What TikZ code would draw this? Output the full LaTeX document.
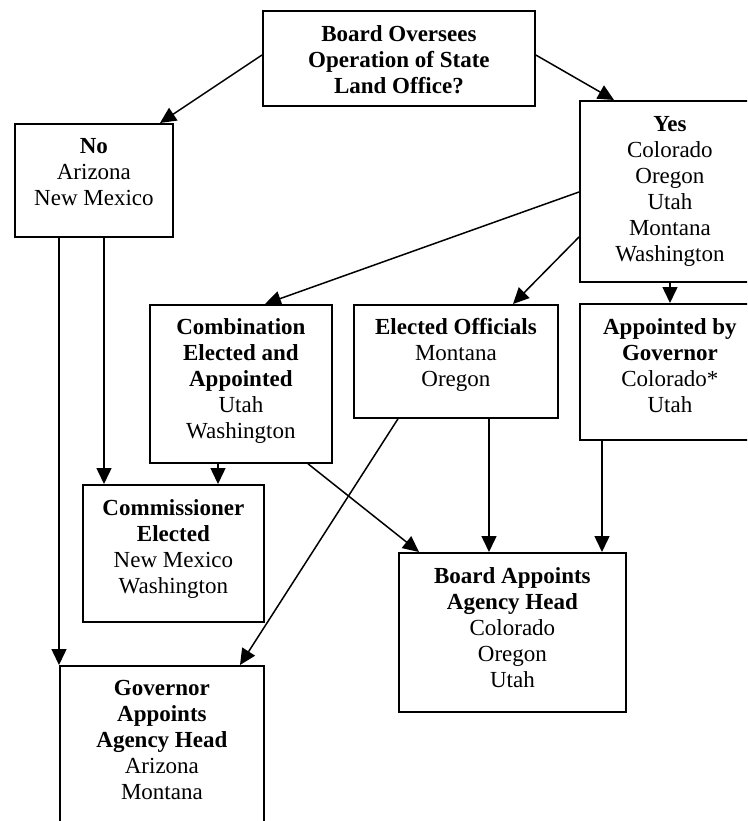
\documentclass[tikz,border=0pt]{standalone}
\usepackage{fontspec}
\setmainfont{Liberation Serif}
\usetikzlibrary{calc,arrows.meta}
\begin{document}
\begin{tikzpicture}[x=1pt,y=-1pt,
  bx/.style={draw=black,line width=1.8pt,rectangle,inner sep=0pt,anchor=north west},
  tx/.style={anchor=north,align=center,inner sep=0pt,font=\fontsize{23}{26}\selectfont},
  arr/.style={line width=1.5pt,-{Triangle[length=16pt,width=15pt]}}]
\useasboundingbox (0,0) rectangle (747,821);
\clip (0,0) rectangle (747,821);
\fill[white] (0,0) rectangle (747,821);
% boxes
\node[bx,minimum width=272,minimum height=95] (top) at (262,10) {};
\node[bx,minimum width=158,minimum height=113] (no) at (14,123) {};
\node[bx,minimum width=180,minimum height=181] (yes) at (579,100) {};
\node[bx,minimum width=180,minimum height=136] (appt) at (579,303) {};
\node[bx,minimum width=182,minimum height=158] (comb) at (149,304) {};
\node[bx,minimum width=204,minimum height=113] (elec) at (353,304) {};
\node[bx,minimum width=181,minimum height=137] (comm) at (82,484) {};
\node[bx,minimum width=227,minimum height=159] (board) at (398,552) {};
\node[bx,minimum width=204,minimum height=190] (gov) at (59,665) {};
% texts
\node[tx] (topt) at ($(top.north)+(0,13)$) {\strut\textbf{Board Oversees}\\\textbf{Operation of State}\\\textbf{Land Office?}};
\node[tx] (not) at ($(no.north)+(0,12)$) {\strut\textbf{No}\\Arizona\\New Mexico};
\node[tx] (yest) at ($(yes.north)+(0,13)$) {\strut\textbf{Yes}\\Colorado\\Oregon\\Utah\\Montana\\Washington};
\node[tx] (apptt) at ($(appt.north)+(0,13)$) {\strut\textbf{Appointed by}\\\textbf{Governor}\\Colorado*\\Utah};
\node[tx] (combt) at ($(comb.north)+(0,12)$) {\strut\textbf{Combination}\\\textbf{Elected and}\\\textbf{Appointed}\\Utah\\Washington};
\node[tx] (elect) at ($(elec.north)+(0,12)$) {\strut\textbf{Elected Officials}\\Montana\\Oregon};
\node[tx] (commt) at ($(comm.north)+(0,13)$) {\strut\textbf{Commissioner}\\\textbf{Elected}\\New Mexico\\Washington};
\node[tx] (boardt) at ($(board.north)+(0,13)$) {\strut\textbf{Board Appoints}\\\textbf{Agency Head}\\Colorado\\Oregon\\Utah};
\node[tx] (govt) at ($(gov.north)+(0,12)$) {\strut\textbf{Governor}\\\textbf{Appoints}\\\textbf{Agency Head}\\Arizona\\Montana};
% connectors
\draw[arr] ($(top.north west)+(0,45)$) -- ($(no.north west)+(146,0)$);
\draw[arr] ($(top.north east)+(0,45)$) -- ($(yes.north west)+(35,0)$);
\draw[arr] ($(yes.north west)+(0,92)$) -- ($(comb.north west)+(116,0)$);
\draw[arr] ($(yes.north west)+(0,137)$) -- ($(elec.north west)+(160,0)$);
\draw[arr] ($(yes.south west)+(91,0)$) -- ($(appt.north west)+(91,0)$);
\draw[arr] ($(no.south west)+(45,0)$) -- (gov.north west);
\draw[arr] ($(no.south west)+(90,0)$) -- ($(comm.north west)+(22,0)$);
\draw[arr] ($(comb.south west)+(69,0)$) -- ($(comm.north west)+(136,0)$);
\draw[arr] ($(comb.south west)+(159,0)$) -- ($(board.north west)+(21,0)$);
\draw[arr] ($(elec.south west)+(136,0)$) -- ($(board.north west)+(91,0)$);
\draw[arr] ($(elec.south west)+(45,0)$) -- ($(gov.north west)+(181,0)$);
\draw[arr] ($(appt.south west)+(23,0)$) -- ($(board.north west)+(204,0)$);
\end{tikzpicture}
\end{document}
